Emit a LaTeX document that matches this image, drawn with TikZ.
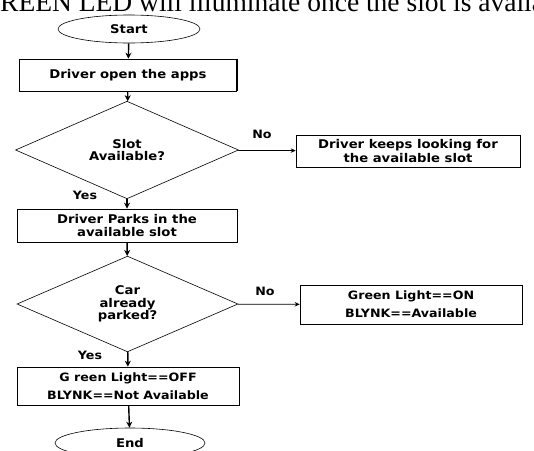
\documentclass[tikz,border=0pt]{standalone}
\usepackage{fontspec}
\setmainfont{DejaVu Sans}[FakeStretch=1.1]
\newfontfamily\serifont{Liberation Serif}
\usetikzlibrary{shapes.geometric,arrows.meta}
\begin{document}
\begin{tikzpicture}[x=1pt,y=-1pt,
  lbl/.style={font=\fontsize{11.5}{13}\selectfont\bfseries, align=center, inner sep=0},
  box/.style={draw, line width=0.6pt, align=center, inner sep=0,
    font=\fontsize{12}{13.5}\selectfont\bfseries},
  dia/.style={draw, diamond, line width=0.6pt, align=center, inner sep=0,
    font=\fontsize{12}{12.5}\selectfont\bfseries},
  term/.style={draw, ellipse, line width=0.6pt, inner sep=0,
    font=\fontsize{12}{13}\selectfont\bfseries},
  arr/.style={line width=1.4pt, -{Stealth[length=6pt,width=6pt]}},
  harr/.style={line width=0.7pt, -{Stealth[length=5pt,width=4.5pt]}}]
\useasboundingbox (0,0) rectangle (534,450);
\clip (0,0) rectangle (534,450);
\node[anchor=base west, inner sep=0, font=\serifont\fontsize{27.5}{28}\selectfont] (top) at (0,11.5) {REEN LED will illuminate once the slot is available};
\node[term, minimum width=142pt, minimum height=28pt] (start) at (129,29) {Start};
\node[box, minimum width=217pt, minimum height=32pt] (b1) at (128,75) {Driver open the apps};
\node[dia, minimum width=223pt, minimum height=74pt] (d1) at (127,150) {Slot\\Available?};
\node[box, minimum width=224pt, minimum height=32pt, font=\fontsize{12}{14}\selectfont\bfseries] (b2) at (408,151) {Driver keeps looking for\\the available slot};
\node[box, minimum width=220pt, minimum height=33pt] (b3) at (127,225.5) {Driver Parks in the\\available slot};
\node[dia, minimum width=221pt, minimum height=82pt] (d2) at (127.5,304) {Car\\already\\parked?};
\node[box, minimum width=222pt, minimum height=39pt, font=\fontsize{11.5}{18}\selectfont\bfseries] (b4) at (411,304.5) {Green Light==ON\\BLYNK==Available};
\node[box, minimum width=222pt, minimum height=38pt, font=\fontsize{11.5}{18}\selectfont\bfseries] (b5) at (128,386) {G reen Light==OFF\\BLYNK==Not Available};
\node[term, minimum width=150pt, minimum height=30pt] (end) at (130,443) {End};
\node[lbl] (no1) at (262,134) {No};
\node[lbl] (yes1) at (85,195) {Yes};
\node[lbl] (no2) at (265,291) {No};
\node[lbl] (yes2) at (90,355) {Yes};
\foreach \n in {b1,b2,b3,b4,b5}
  \draw[line width=1.6pt] (\n.north east) -- (\n.south east);
\draw[arr] (start) -- (b1);
\draw[arr] (b1) -- (d1);
\draw[harr] (d1) -- (b2);
\draw[arr] (d1) -- (b3);
\draw[arr] (b3) -- (d2);
\draw[harr] (d2) -- (b4);
\draw[arr] (d2) -- (b5);
\draw[arr] (b5) -- (end);
\end{tikzpicture}
\end{document}
